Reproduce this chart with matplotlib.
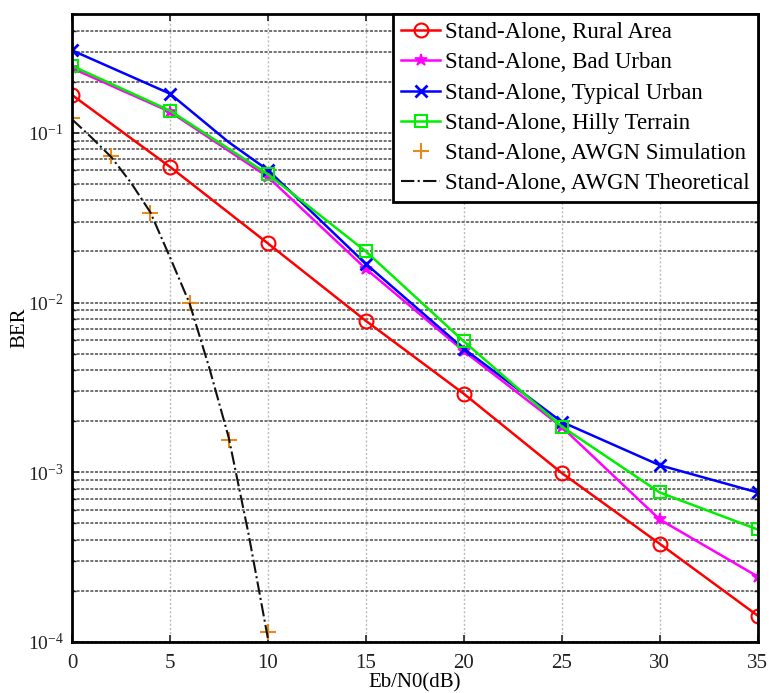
import numpy as np
import matplotlib
matplotlib.use("Agg")
import matplotlib.pyplot as plt
from matplotlib.ticker import LogLocator, NullFormatter

plt.rcParams['font.family'] = ['Liberation Serif', 'DejaVu Serif']
plt.rcParams['mathtext.fontset'] = 'custom'
plt.rcParams['mathtext.rm'] = 'Liberation Serif'
plt.rcParams['mathtext.it'] = 'Liberation Serif:italic'

snr = [0, 5, 10, 15, 20, 25, 30, 35]
rural = [0.167, 0.063, 0.0223, 0.0078, 0.0029, 0.00099, 0.000379, 0.000143]
bad_urban = [0.24, 0.133, 0.055, 0.0158, 0.00517, 0.00185, 0.000527, 0.000243]
snr_tu = [0, 5, 8, 10, 15, 20, 25, 30, 35]
typical_urban = [0.306, 0.170, 0.088, 0.0603, 0.0169, 0.00534, 0.00198, 0.0011, 0.00076]
hilly = [0.248, 0.135, 0.057, 0.020, 0.0059, 0.00186, 0.00076, 0.00046]
snr_awgn_sim = [0, 2, 4, 6, 8, 10]
awgn_sim = [0.122, 0.073, 0.0337, 0.0099, 0.00155, 0.000114]
snr_awgn_th = [0, 1, 2, 3, 4, 5, 6, 7, 8, 9, 10]
awgn_th = [0.12, 0.0937, 0.072, 0.051, 0.034, 0.0185, 0.0099, 0.00415, 0.0016, 0.00044, 0.000105]

labels = ['Stand-Alone, Rural Area', 'Stand-Alone, Bad Urban', 'Stand-Alone, Typical Urban',
          'Stand-Alone, Hilly Terrain', 'Stand-Alone, AWGN Simulation', 'Stand-Alone, AWGN Theoretical']

fig = plt.figure(figsize=(7.70, 6.93), dpi=100)
ax = fig.add_axes([0.0935, 0.0736, 0.8905, 0.906])

lw = 1.8
ax.semilogy(snr, rural, '-o', color='#ff0000', lw=lw, ms=10, mfc='none', mew=1.5, label=labels[0])
ax.semilogy(snr, bad_urban, '-*', color='#ff00ff', lw=lw, ms=9, mew=1.2, label=labels[1])
ax.semilogy(snr_tu, typical_urban, '-x', color='#0000ff', lw=lw, ms=8, mew=2.0,
            markevery=[0, 1, 3, 4, 5, 6, 7, 8], label=labels[2])
ax.semilogy(snr, hilly, '-s', color='#00ee00', lw=lw, ms=9, mfc='none', mew=1.5, label=labels[3])
ax.semilogy(snr_awgn_sim, awgn_sim, '+', color='#e8891a', ms=11, mew=1.5, label=labels[4])
ax.semilogy(snr_awgn_th, awgn_th, '-.', color='#111111', lw=1.5, label=labels[5])

ax.set_xlim(0, 35)
ax.set_ylim(1e-4, 0.5)
ax.set_xticks([0, 5, 10, 15, 20, 25, 30, 35])
ax.yaxis.set_major_locator(LogLocator(base=10, numticks=10))
ax.yaxis.set_minor_locator(LogLocator(base=10, subs=np.arange(2, 10), numticks=20))
ax.yaxis.set_minor_formatter(NullFormatter())

ax.grid(True, axis='x', which='major', color='#bbbbbb', linestyle=(0, (1.5, 1.5)), lw=1.0)
ax.grid(True, axis='y', which='both', color='#4a4a4a', linestyle=(0, (2, 1)), lw=1.1)

ax.tick_params(which='both', direction='in', top=True, right=True, labelsize=15, colors='#222222')
ax.tick_params(axis='y', which='major', labelsize=14, pad=6)
ax.tick_params(axis='x', which='major', pad=9)
ax.tick_params(which='major', length=5, width=1.2)
ax.tick_params(which='minor', length=3, width=1.0)
for s in ax.spines.values():
    s.set_linewidth(2.0)

ax.set_xlabel('Eb/N0(dB)', fontsize=15, labelpad=0)
ax.set_ylabel('BER', fontsize=15, labelpad=2)
ax.yaxis.set_label_coords(-0.062, 0.5)

leg = ax.legend(loc='upper right', fontsize=16.5, borderaxespad=0, fancybox=False,
                edgecolor='black', framealpha=1, handlelength=1.7, handletextpad=0.2,
                labelspacing=0.4, borderpad=0.35)
leg.get_frame().set_linewidth(2.0)

fig.savefig('out.png', dpi=100)
